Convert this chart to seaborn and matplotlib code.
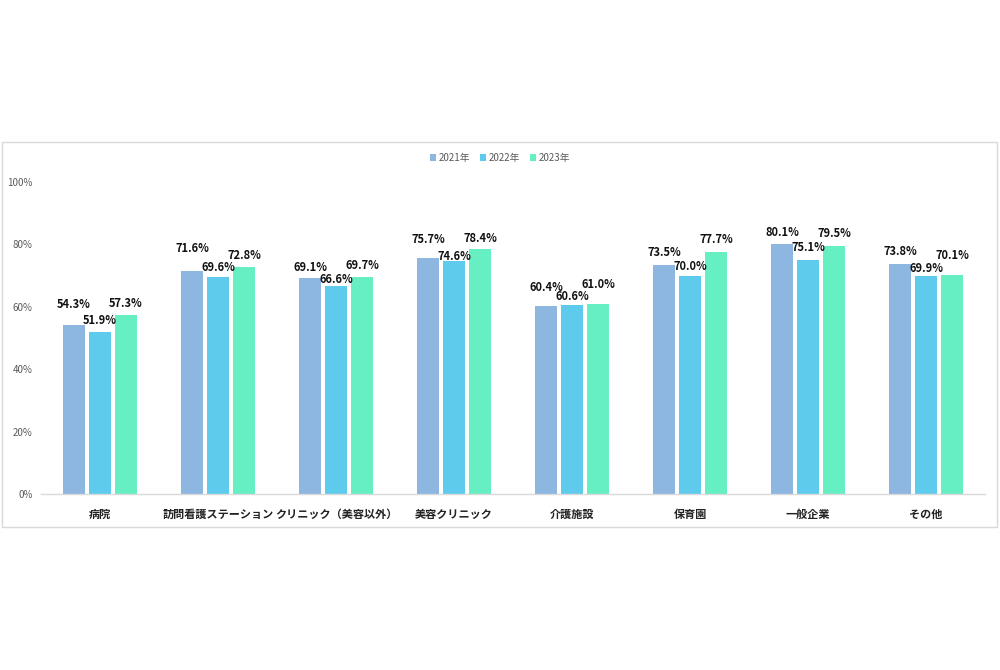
import matplotlib
matplotlib.use("Agg")
import matplotlib.pyplot as plt
import seaborn as sns
import pandas as pd
from matplotlib.patches import Rectangle
from matplotlib.ticker import FuncFormatter

categories = ["病院", "訪問看護ステーション", "クリニック（美容以外）", "美容クリニック",
              "介護施設", "保育園", "一般企業", "その他"]
years = ["2021年", "2022年", "2023年"]
v2021 = [54.3, 71.6, 69.1, 75.7, 60.4, 73.5, 80.1, 73.8]
v2022 = [51.9, 69.6, 66.6, 74.6, 60.6, 70.0, 75.1, 69.9]
v2023 = [57.3, 72.8, 69.7, 78.4, 61.0, 77.7, 79.5, 70.1]
yticks = [0, 20, 40, 60, 80, 100]

colors = ["#8db6e0", "#5ecbec", "#66efc2"]
# label offsets (pixels above bar top to label centre), per series
label_offsets = [
    [20, 22, 11, 18, 18, 12, 12, 12],
    [12, 9, 7, 5, 8, 9, 12, 7],
    [12, 11, 11, 11, 19, 12, 12, 20],
]

rows = []
for yr, vals in zip(years, [v2021, v2022, v2023]):
    for c, v in zip(categories, vals):
        rows.append({"category": c, "year": yr, "value": v})
df = pd.DataFrame(rows)

sns.set_theme(style="white")
plt.rcParams["font.family"] = ["Noto Sans CJK JP", "DejaVu Sans"]

fig = plt.figure(figsize=(10, 6.7), dpi=100)
ax = fig.add_axes([0.041, 1 - 494 / 670, 0.944, (494 - 182) / 670])

sns.barplot(data=df, x="category", y="value", hue="year", order=categories,
            hue_order=years, palette=colors, width=0.66, gap=0.15,
            linewidth=0, saturation=1, ax=ax, legend=True)

ax.set_ylim(0, 100)
ax.set_xlim(-0.5, len(categories) - 0.5)
ax.set_yticks(yticks)
ax.yaxis.set_major_formatter(FuncFormatter(lambda v, p: f"{v:.0f}%"))
ax.tick_params(axis="y", labelsize=7, colors="#595959", length=0, pad=6)
ax.tick_params(axis="x", labelsize=8, length=0, pad=10)
for lab in ax.get_xticklabels():
    lab.set_fontweight("bold")
    lab.set_color("#222222")
ax.set_xlabel("")
ax.set_ylabel("")
for s in ["top", "right", "left"]:
    ax.spines[s].set_visible(False)
ax.spines["bottom"].set_color("#d9d9d9")
ax.spines["bottom"].set_linewidth(1)

for si, cont in enumerate(ax.containers):
    for bi, bar in enumerate(cont):
        h = bar.get_height()
        xc = bar.get_x() + bar.get_width() / 2
        ax.annotate(f"{h:.1f}%", xy=(xc, h),
                    xytext=(0, label_offsets[si][bi] * 0.72),
                    textcoords="offset points", ha="center", va="center",
                    fontsize=8, fontweight="bold", color="#111111",
                    annotation_clip=False)

leg = ax.legend(loc="center", bbox_to_anchor=(0.5, (670 - 158) / 670),
                bbox_transform=fig.transFigure, ncol=3, frameon=False,
                fontsize=7, handlelength=0.6, handleheight=0.6,
                handletextpad=0.3, columnspacing=1.0)
for t in leg.get_texts():
    t.set_color("#595959")

fig.patches.append(Rectangle((2 / 1000, 1 - 527 / 670), 995 / 1000, 385 / 670,
                             transform=fig.transFigure, fill=False,
                             edgecolor="#d9d9d9", linewidth=1))

fig.savefig("out.png", dpi=100, facecolor="white")
